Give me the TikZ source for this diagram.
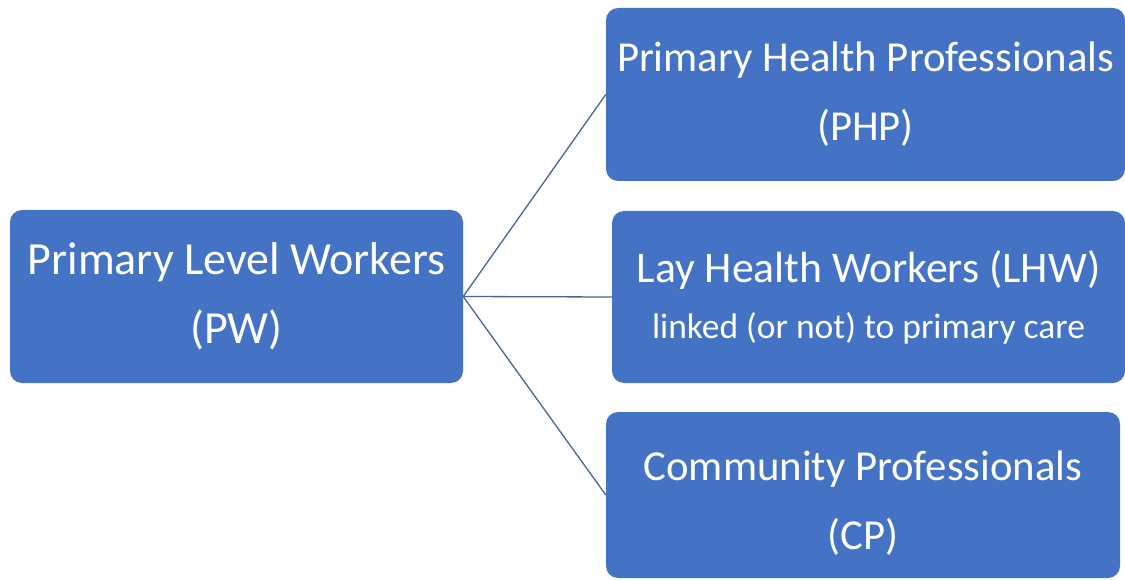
\documentclass[tikz,border=0pt]{standalone}
\usepackage{fontspec}
\setmainfont{Carlito}
\definecolor{boxblue}{HTML}{4472C4}
\definecolor{linecol}{HTML}{4A6496}
\begin{document}
\begin{tikzpicture}[x=1pt,y=-1pt,
  box/.style={fill=boxblue, rounded corners=12pt, text=white, align=center, inner sep=0pt},
  big/.style={font=\fontsize{42.7}{69}\selectfont},
  conn/.style={draw=linecol, line width=1.3pt}]
\useasboundingbox (0,0) rectangle (1125,580);
\node[box, font=\fontsize{46}{69}\selectfont, minimum width=453pt, minimum height=173pt] (pw) at (236.5,296.5) {Primary Level Workers\\(PW)};
\node[box, big, minimum width=519pt, minimum height=173pt] (php) at (865.5,94.5) {Primary Health Professionals\\(PHP)};
\node[box, minimum width=513pt, minimum height=172pt] (lhw) at (868.5,297) {{\fontsize{43.7}{60}\selectfont Lay Health Workers (LHW)}\\[22pt]{\fontsize{35.5}{40}\selectfont linked (or not) to primary care}};
\node[box, big, minimum width=514pt, minimum height=166pt] (cp) at (863,495) {\rule{0pt}{46pt}Community Professionals\\(CP)};
\draw[conn] (pw.east) -- (php.west);
\draw[conn] (pw.east) -- (lhw.west);
\draw[conn] (pw.east) -- (cp.west);
\end{tikzpicture}
\end{document}
